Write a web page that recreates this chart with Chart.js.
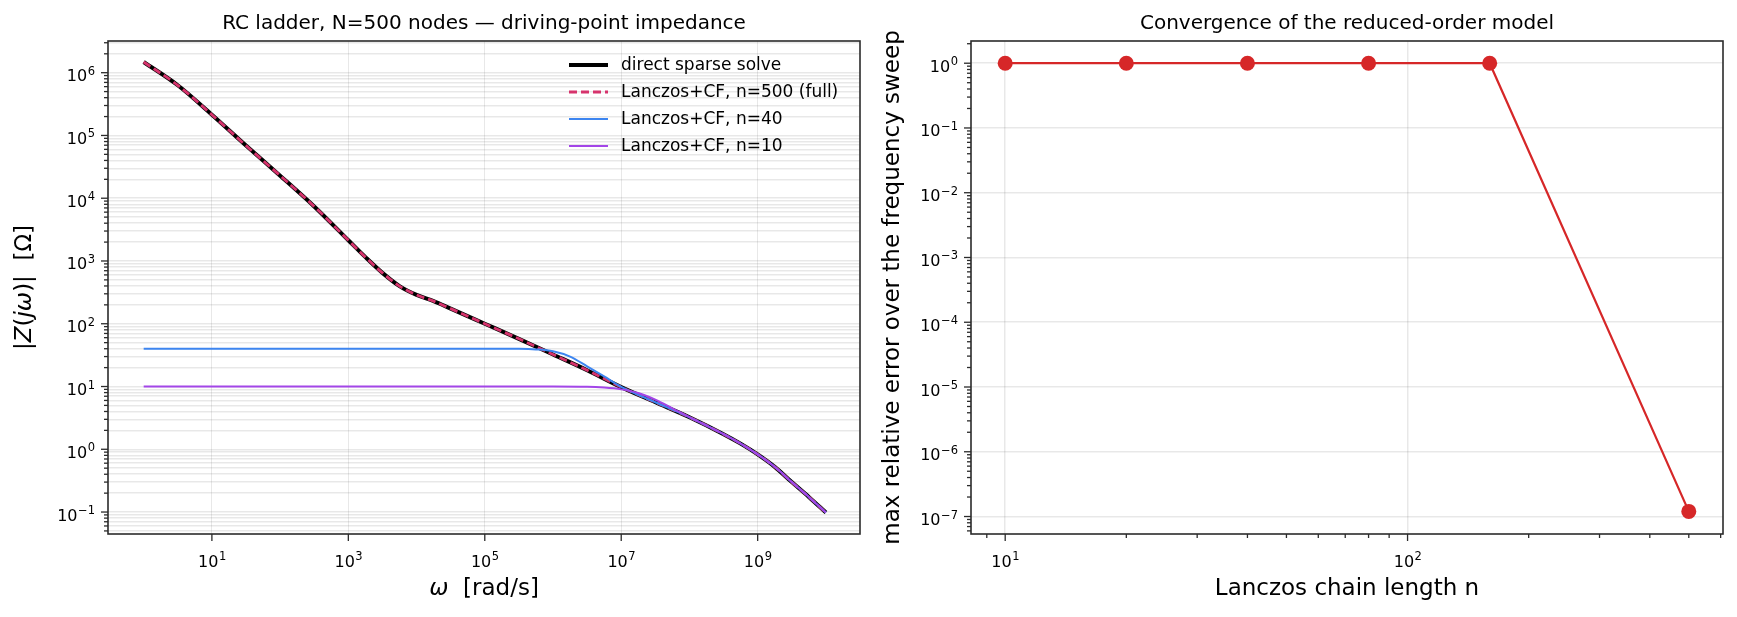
<!DOCTYPE html>
<html>
<head>
<meta charset="utf-8">
<script src="https://cdn.jsdelivr.net/npm/chart.js@4.4.0/dist/chart.umd.min.js"></script>
<style>
  html, body { margin: 0; padding: 0; background: #fff; }
  #wrap { position: relative; width: 1737px; height: 617px; overflow: hidden; }
  .panel { position: absolute; top: 0; height: 617px; }
  #left { left: 0; width: 870px; }
  #right { left: 870px; width: 867px; }
</style>
</head>
<body>
<div id="wrap">
  <div class="panel" id="left"><canvas id="zChart" width="870" height="617"></canvas></div>
  <div class="panel" id="right"><canvas id="errChart" width="867" height="617"></canvas></div>
</div>
<script>
// --- left panel: |Z(jw)| of the RC ladder ---
const omegaDirect = [1, 3.16, 10, 31.6, 100, 316, 1000, 1780, 3160, 5620, 1e4, 1.78e4, 3.16e4,
                     1e5, 3.16e5, 1e6, 3.16e6, 1e7, 3.16e7, 1e8, 3.16e8, 5.62e8, 1e9, 1.78e9, 3.16e9, 5.62e9, 1e10];
const zDirect     = [1.48e6, 6.3e5, 2.14e5, 6.9e4, 2.29e4, 7.4e3, 2140, 1150, 646, 398, 288, 229, 174,
                     100, 57.5, 32.4, 18.2, 9.77, 5.62, 3.24, 1.74, 1.23, 0.83, 0.525, 0.30, 0.174, 0.098];
// n=500 Lanczos reproduces the direct solve
const zFull = zDirect.slice();

const omega40 = [1, 100, 1e4, 1e5, 3.16e5, 5.62e5, 1e6, 1.78e6, 3.16e6, 5.62e6, 1e7,
                 3.16e7, 1e8, 3.16e8, 5.62e8, 1e9, 1.78e9, 3.16e9, 5.62e9, 1e10];
const z40     = [40, 40, 40, 40, 39.8, 39.0, 36.5, 30, 21, 14.5, 9.9,
                 5.62, 3.24, 1.74, 1.23, 0.83, 0.525, 0.30, 0.174, 0.098];

const omega10 = [1, 100, 1e4, 1e6, 3.16e6, 5.62e6, 1e7, 1.78e7, 3.16e7, 5.62e7, 1e8,
                 3.16e8, 5.62e8, 1e9, 1.78e9, 3.16e9, 5.62e9, 1e10];
const z10     = [10, 10, 10, 10, 9.9, 9.6, 9.0, 7.9, 6.2, 4.5, 3.24,
                 1.74, 1.23, 0.83, 0.525, 0.30, 0.174, 0.098];

const zMajorTicks = [0.1, 1, 10, 100, 1e3, 1e4, 1e5, 1e6];
const omegaMajorTicks = [10, 1e3, 1e5, 1e7, 1e9];

// --- right panel: convergence ---
const chainLength = [10, 20, 40, 80, 160, 500];
const maxRelErr   = [1, 1, 1, 1, 1, 1.2e-7];
const nMajorTicks = [10, 100];
const errMajorTicks = [1e-7, 1e-6, 1e-5, 1e-4, 1e-3, 1e-2, 1e-1, 1];

const FONT = "'DejaVu Sans', sans-serif";
Chart.defaults.font.family = FONT;
Chart.defaults.color = '#000';

function isMajor(v, majors) {
    return majors.some(m => Math.abs(v / m - 1) < 1e-6);
}
// majors plus 2..9 minor ticks inside [lo, hi]
function logTicks(lo, hi) {
    const out = [];
    for (let e = Math.floor(Math.log10(lo)); e <= Math.ceil(Math.log10(hi)); e++) {
        for (let k = 1; k <= 9; k++) {
            const v = k * Math.pow(10, e);
            if (v >= lo && v <= hi) out.push(v);
        }
    }
    return out;
}
const zip = (xs, ys) => xs.map((x, i) => ({ x: x, y: ys[i] }));

function logAxis(o) {
    return {
        type: 'logarithmic',
        position: o.position,
        min: o.min,
        max: o.max,
        afterFit: s => { if (o.position === 'left') s.width = o.size; else s.height = o.size; },
        afterBuildTicks: s => { s.ticks = o.ticks.map(v => ({ value: v })); },
        border: { display: false },
        grid: {
            drawTicks: false,
            color: ctx => {
                if (!ctx.tick) return 'rgba(0,0,0,0)';
                return (o.minorGrid || isMajor(ctx.tick.value, o.majors)) ? 'rgba(0,0,0,0.09)' : 'rgba(0,0,0,0)';
            },
            lineWidth: o.gridWidth
        },
        ticks: { display: false, autoSkip: false },
        title: {
            display: !!o.title,
            text: o.title || '',
            color: '#000',
            font: { family: FONT, size: 23 },
            padding: o.titlePad
        }
    };
}

// text made of pieces with their own style, centred on (x, y)
function drawRich(ctx, parts, x, y, angle, size) {
    ctx.save();
    ctx.translate(x, y);
    ctx.rotate(angle);
    ctx.textBaseline = 'middle';
    ctx.fillStyle = '#000';
    let w = 0;
    parts.forEach(p => { ctx.font = p[1] + ' ' + size + 'px ' + FONT; w += ctx.measureText(p[0]).width; });
    let cx = -w / 2;
    parts.forEach(p => {
        ctx.font = p[1] + ' ' + size + 'px ' + FONT;
        ctx.fillText(p[0], cx, 0);
        cx += ctx.measureText(p[0]).width;
    });
    ctx.restore();
}

// "10" with a raised exponent, like the matplotlib log formatter
function powerLabel(ctx, v, x, baseline, align) {
    const e = Math.round(Math.log10(v));
    const exp = (e < 0 ? '\u2212' : '') + Math.abs(e);
    ctx.font = '16px ' + FONT;
    const w1 = ctx.measureText('10').width;
    ctx.font = '11.5px ' + FONT;
    const w2 = ctx.measureText(exp).width;
    const left = align === 'center' ? x - (w1 + w2) / 2 : x - (w1 + w2);
    ctx.textBaseline = 'alphabetic';
    ctx.textAlign = 'left';
    ctx.font = '16px ' + FONT;
    ctx.fillText('10', left, baseline);
    ctx.font = '11.5px ' + FONT;
    ctx.fillText(exp, left + w1 + 0.5, baseline - 6.5);
}

// box around the axes, outward tick marks (long majors, short minors) and tick labels
const framePlugin = {
    id: 'frame',
    afterDraw(chart, args, opts) {
        const { ctx, chartArea: a } = chart;
        ctx.save();
        ctx.strokeStyle = '#2b2b2b';
        ctx.fillStyle = '#000';
        ctx.lineWidth = 1.3;
        Object.values(chart.scales).forEach(s => {
            const majors = opts.majors[s.id];
            s.ticks.forEach(t => {
                const p = s.getPixelForValue(t.value);
                const major = isMajor(t.value, majors);
                const len = major ? 7 : 4;
                ctx.beginPath();
                if (s.isHorizontal()) { ctx.moveTo(p, a.bottom); ctx.lineTo(p, a.bottom + len); }
                else { ctx.moveTo(a.left - len, p); ctx.lineTo(a.left, p); }
                ctx.stroke();
                if (major) {
                    if (s.isHorizontal()) powerLabel(ctx, t.value, p, a.bottom + 32.5, 'center');
                    else powerLabel(ctx, t.value, a.left - 13.5, p + 8.5, 'right');
                }
            });
        });
        ctx.lineWidth = 1.6;
        ctx.strokeRect(a.left, a.top, a.right - a.left, a.bottom - a.top);
        ctx.restore();

        // axis titles with italic math symbols
        if (opts.richX) drawRich(ctx, opts.richX, (a.left + a.right) / 2, 589, 0, 23);
        if (opts.richY) drawRich(ctx, opts.richY, 25, (a.top + a.bottom) / 2, -Math.PI / 2, 23);
    }
};

// legend drawn inside the plot, upper right, no frame
const innerLegend = {
    id: 'innerLegend',
    afterDraw(chart, args, opts) {
        if (!opts.show) return;
        const { ctx, chartArea: a } = chart;
        ctx.save();
        ctx.font = '17px ' + FONT;
        ctx.textBaseline = 'middle';
        ctx.fillStyle = '#000';
        chart.data.datasets.forEach((ds, i) => {
            const y = a.top + 24 + i * 27;
            const x0 = a.right - 291;
            ctx.beginPath();
            ctx.strokeStyle = ds.borderColor;
            ctx.lineWidth = ds.borderWidth;
            ctx.setLineDash(ds.borderDash || []);
            ctx.moveTo(x0, y);
            ctx.lineTo(x0 + 39, y);
            ctx.stroke();
            ctx.setLineDash([]);
            ctx.fillText(ds.label, x0 + 52, y + 1);
        });
        ctx.restore();
    }
};

function lineSet(label, xs, ys, color, width, dash, order) {
    return {
        label: label,
        data: zip(xs, ys),
        borderColor: color,
        backgroundColor: color,
        borderWidth: width,
        borderDash: dash,
        pointRadius: 0,
        cubicInterpolationMode: 'monotone',
        order: order
    };
}

document.addEventListener('DOMContentLoaded', function () {
    const zMin = Math.pow(10, -1.35), zMax = Math.pow(10, 6.505);
    new Chart(document.getElementById('zChart'), {
        type: 'line',
        data: {
            datasets: [
                lineSet('direct sparse solve', omegaDirect, zDirect, '#000000', 4, [], 4),
                lineSet('Lanczos+CF, n=500 (full)', omegaDirect, zFull, '#d6336c', 2.8, [8, 4], 3),
                lineSet('Lanczos+CF, n=40', omega40, z40, '#3d85f0', 2, [], 2),
                lineSet('Lanczos+CF, n=10', omega10, z10, '#a346e8', 2, [], 1)
            ]
        },
        options: {
            responsive: false,
            devicePixelRatio: 1,
            animation: false,
            layout: { padding: { left: 0, right: 10, top: 0, bottom: 0 } },
            scales: {
                x: logAxis({ position: 'bottom', min: Math.pow(10, -0.5), max: Math.pow(10, 10.5), size: 83,
                             ticks: omegaMajorTicks, majors: omegaMajorTicks, minorGrid: false, gridWidth: 1 }),
                y: logAxis({ position: 'left', min: zMin, max: zMax, size: 108,
                             ticks: logTicks(zMin, zMax), majors: zMajorTicks, minorGrid: true, gridWidth: 1.5 })
            },
            plugins: {
                legend: { display: false },
                tooltip: { enabled: false },
                title: {
                    display: true,
                    text: 'RC ladder, N=500 nodes \u2014 driving-point impedance',
                    fullSize: false,
                    color: '#000',
                    font: { family: FONT, size: 20, weight: 'normal' },
                    padding: { top: 12, bottom: 5 }
                },
                frame: {
                    majors: { x: omegaMajorTicks, y: zMajorTicks },
                    richX: [['\u03C9', 'italic'], ['  [rad/s]', 'normal']],
                    richY: [['|', 'normal'], ['Z', 'italic'], ['(', 'normal'], ['j\u03C9', 'italic'],
                            [')|', 'normal'], ['  [\u03A9]', 'normal']]
                },
                innerLegend: { show: true }
            }
        },
        plugins: [framePlugin, innerLegend]
    });

    const nMin = Math.pow(10, 0.915), nMax = Math.pow(10, 2.784);
    const eMin = Math.pow(10, -7.27), eMax = Math.pow(10, 0.343);
    new Chart(document.getElementById('errChart'), {
        type: 'line',
        data: {
            datasets: [{
                label: 'max relative error',
                data: zip(chainLength, maxRelErr),
                borderColor: '#d62728',
                backgroundColor: '#d62728',
                borderWidth: 2.2,
                pointRadius: 7.5,
                pointBorderWidth: 0,
                pointBackgroundColor: '#d62728'
            }]
        },
        options: {
            responsive: false,
            devicePixelRatio: 1,
            animation: false,
            layout: { padding: { left: 0, right: 14, top: 0, bottom: 0 } },
            scales: {
                x: logAxis({ position: 'bottom', min: nMin, max: nMax, size: 83,
                             ticks: logTicks(nMin, nMax), majors: nMajorTicks, minorGrid: false, gridWidth: 1.5,
                             title: 'Lanczos chain length n', titlePad: { top: 0, bottom: 14 } }),
                y: logAxis({ position: 'left', min: eMin, max: eMax, size: 101,
                             ticks: logTicks(eMin, eMax), majors: errMajorTicks, minorGrid: false, gridWidth: 1.5,
                             title: 'max relative error over the frequency sweep', titlePad: { top: 9, bottom: 0 } })
            },
            plugins: {
                legend: { display: false },
                tooltip: { enabled: false },
                title: {
                    display: true,
                    text: 'Convergence of the reduced-order model',
                    fullSize: false,
                    color: '#000',
                    font: { family: FONT, size: 20, weight: 'normal' },
                    padding: { top: 12, bottom: 5 }
                },
                frame: { majors: { x: nMajorTicks, y: errMajorTicks } },
                innerLegend: { show: false }
            }
        },
        plugins: [framePlugin, innerLegend]
    });
});
</script>
</body>
</html>
